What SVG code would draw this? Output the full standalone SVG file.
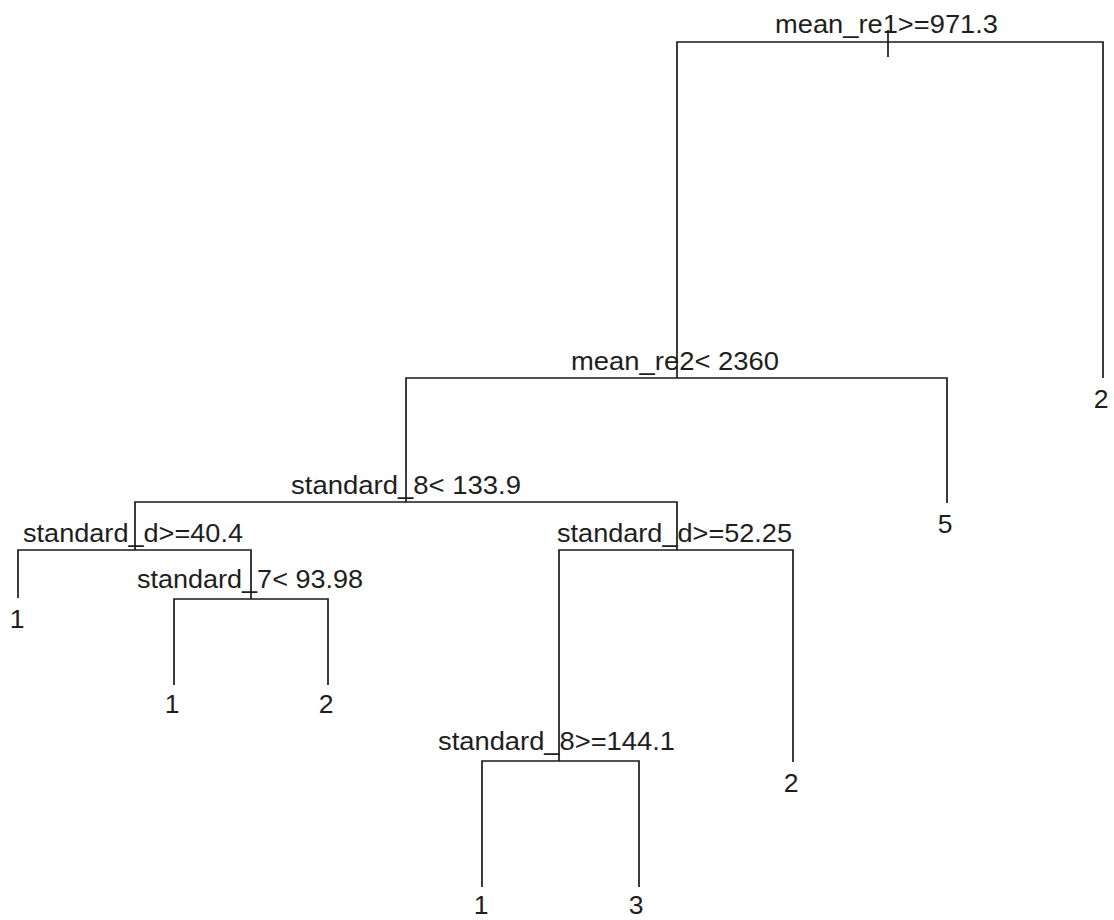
<svg xmlns="http://www.w3.org/2000/svg" width="1114" height="920" viewBox="0 0 1114 920">
<style>
  .bg { fill: #ffffff; }
  .edge { fill: none; stroke: #1a1a1a; stroke-width: 1.7; }
  .lbl { font-family: "Liberation Sans", Arial, sans-serif; font-size: 26.5px; fill: #1e1e1e; text-anchor: middle; }
</style>
<rect class="bg" x="0" y="0" width="1114" height="920"/>
<g id="connectors">
  <path class="edge" d="M888,30 V57"/>
  <path class="edge" d="M888,42 H677 V378"/>
  <path class="edge" d="M888,42 H1103 V378"/>
  <path class="edge" d="M677,378 H406 V502"/>
  <path class="edge" d="M677,378 H947 V503"/>
  <path class="edge" d="M406,502 H135 V550"/>
  <path class="edge" d="M406,502 H677 V550"/>
  <path class="edge" d="M135,550 H18 V598"/>
  <path class="edge" d="M135,550 H251 V599"/>
  <path class="edge" d="M251,599 H174 V685"/>
  <path class="edge" d="M251,599 H328 V685"/>
  <path class="edge" d="M677,550 H559 V761"/>
  <path class="edge" d="M677,550 H793 V762"/>
  <path class="edge" d="M559,761 H482 V887"/>
  <path class="edge" d="M559,761 H639 V887"/>
</g>
<g id="node-root"><text class="lbl" x="886.5" y="33" textLength="223" lengthAdjust="spacingAndGlyphs">mean_re1&gt;=971.3</text></g>
<g id="node-2"><text class="lbl" x="675" y="370" textLength="208" lengthAdjust="spacingAndGlyphs">mean_re2&lt; 2360</text></g>
<g id="node-3"><text class="lbl" x="406" y="494" textLength="230" lengthAdjust="spacingAndGlyphs">standard_8&lt; 133.9</text></g>
<g id="node-4"><text class="lbl" x="133" y="542" textLength="220" lengthAdjust="spacingAndGlyphs">standard_d&gt;=40.4</text></g>
<g id="node-5"><text class="lbl" x="250" y="588" textLength="226" lengthAdjust="spacingAndGlyphs">standard_7&lt; 93.98</text></g>
<g id="node-6"><text class="lbl" x="674.5" y="542" textLength="235" lengthAdjust="spacingAndGlyphs">standard_d&gt;=52.25</text></g>
<g id="node-7"><text class="lbl" x="556.5" y="750" textLength="237" lengthAdjust="spacingAndGlyphs">standard_8&gt;=144.1</text></g>
<g id="leaf-root-right"><text class="lbl" x="1101" y="408">2</text></g>
<g id="leaf-node2-right"><text class="lbl" x="945" y="533">5</text></g>
<g id="leaf-node4-left"><text class="lbl" x="17" y="628">1</text></g>
<g id="leaf-node5-left"><text class="lbl" x="172" y="713">1</text></g>
<g id="leaf-node5-right"><text class="lbl" x="326" y="713">2</text></g>
<g id="leaf-node6-right"><text class="lbl" x="791" y="792">2</text></g>
<g id="leaf-node7-left"><text class="lbl" x="481" y="914">1</text></g>
<g id="leaf-node7-right"><text class="lbl" x="636" y="914">3</text></g>
</svg>
